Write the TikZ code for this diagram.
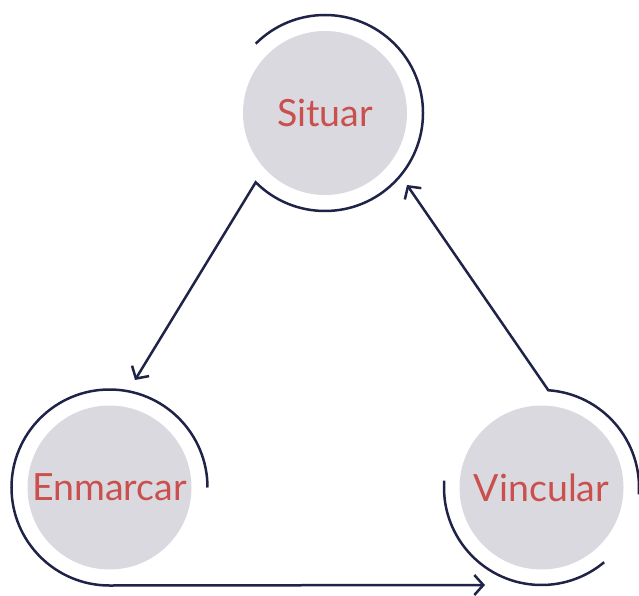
\documentclass[tikz,border=0pt]{standalone}
\usepackage{fontspec}
\newfontfamily\labfont{Lato}
\usetikzlibrary{arrows.meta}
\definecolor{discfill}{HTML}{DBD9E0}
\definecolor{labred}{HTML}{C9504D}
\definecolor{navy}{HTML}{1F2347}
\tikzset{
  disc/.style={circle, fill=discfill, minimum size=164pt, inner sep=0pt, text=labred, font=\labfont\fontsize{37.5}{37.5}\selectfont},
  ring/.style={draw=navy, line width=2.5pt},
  flow/.style={ring, -{Straight Barb[length=9pt,width=20pt,line width=2.5pt]}}
}
\begin{document}
\begin{tikzpicture}[x=1pt,y=1pt]
\useasboundingbox (0,0) rectangle (639,595);
\node[disc] (S) at (325,482) {Situar};
\node[disc] (E) at (109.5,107.5) {Enmarcar};
\node[disc] (V) at (541.5,107.5) {Vincular};
\coordinate (Etip) at (135,215);
\coordinate (Vtip) at (485,10);
\coordinate (Stip) at (407,410);
% Situar ring and arrow to Enmarcar
\draw[flow] (S.center) ++(135:98) arc[start angle=135, end angle=-135, radius=98] -- (Etip);
% Enmarcar ring and arrow to Vincular
\draw[flow] (E.center) ++(0:98) arc[start angle=0, end angle=270, radius=98] -- (Vtip);
% Vincular ring pieces and arrow to Situar
\draw[ring] (V.center) ++(176:97.5) arc[start angle=176, end angle=310, radius=97.5];
\draw[flow] (V.center) ++(-4:97.5) arc[start angle=-4, end angle=86, radius=97.5] -- (Stip);
\end{tikzpicture}
\end{document}
